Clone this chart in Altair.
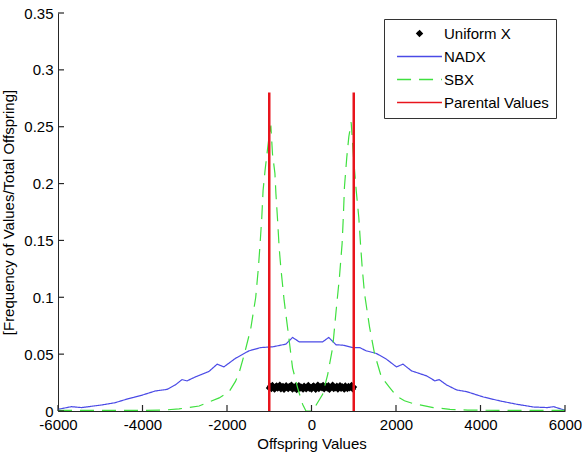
import altair as alt
import pandas as pd

# ---------------- data ----------------
series_names = ["Uniform X", "NADX", "SBX", "Parental Values"]
series_colors = ["#000000", "#4a4ae6", "#3fe03f", "#e8141c"]
series_dashes = [[1, 0], [1, 0], [14, 8], [1, 0]]
series_shapes = ["diamond", "M-8.2,0H8.2", "M-8.2,0H8.2", "M-8.2,0H8.2"]

nadx_x = [-6000, -5680, -5440, -4970, -4650, -4330, -4020, -3700, -3420, -3220,
          -3065, -2946, -2747, -2430, -2232, -2073, -1796, -1479, -1201, -925,
          -607, -449, -290, 0, 264, 407, 582, 740, 978, 1137,
          1296, 1534, 1772, 2010, 2167, 2366, 2723, 2920, 3023, 3198,
          3436, 3674, 4070, 4467, 4863, 5259, 5576, 5735, 6000]
nadx_y = [0.0015, 0.0038, 0.0030, 0.0053, 0.0073, 0.0109, 0.0138, 0.0176, 0.0190, 0.0230,
          0.0276, 0.0265, 0.0300, 0.0347, 0.0412, 0.0388, 0.0464, 0.0529, 0.0558, 0.0564,
          0.0588, 0.0647, 0.0608, 0.0608, 0.0608, 0.0647, 0.0582, 0.0579, 0.0558, 0.0558,
          0.0529, 0.0506, 0.0456, 0.0388, 0.0412, 0.0353, 0.0309, 0.0265, 0.0276, 0.0229,
          0.0185, 0.0170, 0.0123, 0.0088, 0.0059, 0.0035, 0.0030, 0.0038, 0.0006]

sbx_x = [-6000, -5000, -4000, -3500, -3135, -2660, -2185, -1950, -1800, -1710,
         -1590, -1440, -1320, -1257, -1217, -1177, -1146, -1098, -1019, -962,
         -923, -866, -842, -802, -766, -726, -647, -528, -449, -330,
         -211, -131, -50, 40, 107, 264, 383, 502, 582, 661,
         724, 756, 780, 835, 883, 939, 1001, 1058, 1120, 1160,
         1200, 1256, 1375, 1494, 1653, 1851, 2010, 2200, 2405, 2881,
         3277, 3700, 4500, 5500, 6000]
sbx_y = [0.0005, 0.0005, 0.0005, 0.0008, 0.0018, 0.0044, 0.0115, 0.0170, 0.0260, 0.0340,
         0.0500, 0.0720, 0.1000, 0.1260, 0.1470, 0.1700, 0.1940, 0.2120, 0.2370, 0.2510,
         0.2260, 0.2090, 0.1910, 0.1675, 0.1440, 0.1260, 0.0970, 0.0620, 0.0380, 0.0206,
         0.0060, 0.0000, 0.0000, 0.0000, 0.0050, 0.0147, 0.0320, 0.0560, 0.0880, 0.1176,
         0.1470, 0.1730, 0.1970, 0.2230, 0.2410, 0.2540, 0.2200, 0.1940, 0.1700, 0.1470,
         0.1260, 0.1030, 0.0735, 0.0500, 0.0300, 0.0206, 0.0132, 0.0090, 0.0065, 0.0030,
         0.0015, 0.0008, 0.0005, 0.0005, 0.0005]

uni_x = list(range(-1000, 1001, 25))
uni_y = [0.0203, 0.0218, 0.0195, 0.0226, 0.0207, 0.0190, 0.0214, 0.0222, 0.0199, 0.0211,
         0.0228, 0.0193, 0.0205, 0.0219, 0.0188, 0.0209, 0.0224, 0.0201, 0.0196, 0.0217,
         0.0206, 0.0229, 0.0192, 0.0212, 0.0200, 0.0221, 0.0187, 0.0208, 0.0225, 0.0197,
         0.0213, 0.0203, 0.0190, 0.0220, 0.0209, 0.0194, 0.0216, 0.0227, 0.0198, 0.0205,
         0.0191, 0.0215, 0.0223, 0.0202, 0.0189, 0.0212, 0.0230, 0.0196, 0.0208, 0.0219,
         0.0201, 0.0226, 0.0193, 0.0210, 0.0217, 0.0199, 0.0224, 0.0188, 0.0206, 0.0214,
         0.0228, 0.0195, 0.0211, 0.0203, 0.0220, 0.0192, 0.0209, 0.0225, 0.0198, 0.0216,
         0.0204, 0.0190, 0.0222, 0.0207, 0.0196, 0.0218, 0.0201, 0.0213, 0.0227, 0.0194,
         0.0210]

par_x = [-1000, 1000]
par_y0 = [0.0, 0.0]
par_y1 = [0.28, 0.28]

x_ticks = [-6000, -4000, -2000, 0, 2000, 4000, 6000]
y_ticks = [0, 0.05, 0.1, 0.15, 0.2, 0.25, 0.3, 0.35]

# ---------------- tables ----------------
lines_df = pd.concat([
    pd.DataFrame({"x": nadx_x, "y": nadx_y, "series": "NADX", "order": range(len(nadx_x))}),
    pd.DataFrame({"x": sbx_x, "y": sbx_y, "series": "SBX", "order": range(len(sbx_x))}),
])
uni_df = pd.DataFrame({"x": uni_x, "y": uni_y, "series": "Uniform X"})
par_df = pd.DataFrame({"x": par_x, "y": par_y0, "y2": par_y1, "series": "Parental Values"})
xt_df = pd.DataFrame({"t": x_ticks})
yt_df = pd.DataFrame({"t": y_ticks})

W, H = 507, 398
FONT = "Liberation Sans"
AXC = "#262626"

xs = alt.Scale(domain=[-6000, 6000], nice=False, zero=False)
ys = alt.Scale(domain=[0, 0.35], nice=False)
color = alt.Color("series:N", scale=alt.Scale(domain=series_names, range=series_colors), title=None)
dash = alt.StrokeDash("series:N", scale=alt.Scale(domain=series_names, range=series_dashes), title=None)
shape = alt.Shape("series:N", scale=alt.Scale(domain=series_names, range=series_shapes), title=None)

xlabel = "datum.value < 0 ? '-' + format(-datum.value, 'd') : format(datum.value, 'd')"
main_x_axis = alt.Axis(values=x_ticks, labelExpr=xlabel, ticks=False, labelPadding=6,
                       title="Offspring Values", titlePadding=4, grid=False, labelFlush=False)
main_y_axis = alt.Axis(values=y_ticks, format="~g", ticks=False, labelPadding=5,
                       title="[Frequency of Values/Total Offspring]", titlePadding=7, grid=False)

uni_layer = alt.Chart(uni_df).mark_point(filled=True, size=48, opacity=1).encode(
    x=alt.X("x:Q", scale=xs),
    y=alt.Y("y:Q", scale=ys),
    color=color,
    shape=shape,
)

line_layer = alt.Chart(lines_df).mark_line(clip=True, strokeWidth=1.2).encode(
    x=alt.X("x:Q", scale=xs, axis=main_x_axis),
    y=alt.Y("y:Q", scale=ys, axis=main_y_axis),
    color=color,
    strokeDash=dash,
    order="order:Q",
)

par_layer = alt.Chart(par_df).mark_rule(strokeWidth=2.5).encode(
    x=alt.X("x:Q", scale=xs),
    y=alt.Y("y:Q", scale=ys),
    y2="y2:Q",
    color=color,
)

# inward tick marks (MATLAB style), placed from the tick values through the scales
xtick_layer = alt.Chart(xt_df).mark_rule(color=AXC, strokeWidth=1.2).encode(
    x=alt.X("t:Q", scale=xs),
    y=alt.value(H),
    y2=alt.value(H - 6),
)
ytick_layer = alt.Chart(yt_df).mark_rule(color=AXC, strokeWidth=1.2).encode(
    y=alt.Y("t:Q", scale=ys),
    x=alt.value(0),
    x2=alt.value(6),
)

chart = alt.layer(uni_layer, line_layer, par_layer, xtick_layer, ytick_layer).properties(
    width=W, height=H,
    autosize=alt.AutoSizeParams(type="none"),
    padding={"left": 58, "top": 13, "right": 17, "bottom": 41},
    background="white",
).configure_view(stroke=None).configure_axis(
    labelFont=FONT, labelFontSize=15, labelColor="#000000",
    titleFont=FONT, titleFontSize=15, titleFontWeight="normal", titleColor="#000000",
    domainColor=AXC, tickColor=AXC, domainWidth=1, tickWidth=1,
).configure_legend(
    orient="none", legendX=326, legendY=6,
    labelFont=FONT, labelFontSize=15, labelColor="#000000",
    symbolSize=30, symbolOffset=21, labelOffset=17, rowPadding=7,
    padding=7, strokeColor="#333333", fillColor="#ffffff", cornerRadius=0,
    symbolStrokeWidth=1.4,
)

chart.save("out.html", embed_options={"renderer": "svg", "actions": False})
